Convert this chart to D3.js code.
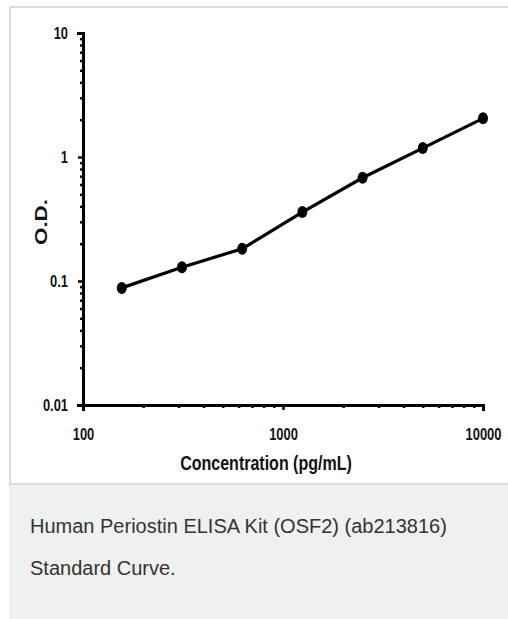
<!DOCTYPE html>
<html>
<head>
<meta charset="utf-8">
<script src="https://cdn.jsdelivr.net/npm/d3@7"></script>
<style>
  body { margin: 0; background: #fff; }
  svg { display: block; }
</style>
</head>
<body>
<svg id="chart" width="508" height="619"></svg>
<script>
// standard curve readings
const concentration = [156.25, 312.5, 625, 1250, 2500, 5000, 10000];
const od = [0.088, 0.129, 0.182, 0.36, 0.68, 1.18, 2.05];
const xTickLabels = [100, 1000, 10000];
const yTickLabels = [0.01, 0.1, 1, 10];
const captionLines = ['Human Periostin ELISA Kit (OSF2) (ab213816)', 'Standard Curve.'];

const svg = d3.select('#chart');

// frame + caption panel
svg.append('rect')
  .attr('x', 10).attr('y', 7).attr('width', 510).attr('height', 477)
  .attr('fill', '#fff').attr('stroke', '#dcdcdc').attr('stroke-width', 2);
svg.append('rect')
  .attr('x', 9).attr('y', 485).attr('width', 510).attr('height', 134)
  .attr('fill', '#eff0f0');

svg.selectAll('text.caption')
  .data(captionLines)
  .enter()
  .append('text')
  .attr('class', 'caption')
  .attr('x', 30)
  .attr('y', (d, i) => 533 + i * 42)
  .attr('fill', '#333')
  .style('font-family', '"Liberation Sans", Arial, sans-serif')
  .style('font-size', '20px')
  .text(d => d);

const margin = { top: 33, left: 83 };
const graphWidth = 400;
const graphHeight = 372;

const graph = svg.append('g')
  .attr('transform', `translate(${margin.left}, ${margin.top})`);

const x = d3.scaleLog().domain([100, 10000]).range([0, graphWidth]);
const y = d3.scaleLog().domain([0.01, 10]).range([graphHeight, 0]);

const font = '"Liberation Sans", Arial, sans-serif';
const isMajor = (d, list) => list.some(v => Math.abs(v - d) / v < 1e-6);
const squeeze = 0.76; // the original uses a narrow bold face

function condense(sel, factor) {
  sel.each(function () {
    const len = this.getComputedTextLength();
    if (len > 0) {
      d3.select(this)
        .attr('textLength', len * factor)
        .attr('lengthAdjust', 'spacingAndGlyphs');
    }
  });
}

const xAxis = d3.axisBottom(x)
  .tickValues(x.ticks())
  .tickFormat(d => isMajor(d, xTickLabels) ? d : '')
  .tickPadding(17);
const yAxis = d3.axisLeft(y)
  .tickValues(y.ticks())
  .tickFormat(d => isMajor(d, yTickLabels) ? d : '')
  .tickPadding(9);

const xAxisGroup = graph.append('g').attr('transform', `translate(0, ${graphHeight})`).call(xAxis);
const yAxisGroup = graph.append('g').call(yAxis);

[xAxisGroup, yAxisGroup].forEach(g => {
  g.select('.domain').attr('stroke', '#000').attr('stroke-width', 3);
  g.selectAll('.tick text')
    .style('font-family', font)
    .style('font-weight', 'bold')
    .style('font-size', '17px')
    .attr('fill', '#111')
    .attr('transform', `scale(${squeeze}, 1)`);
});
// keep the right edge of y labels where it was before the squeeze
yAxisGroup.selectAll('.tick text').attr('x', -15 / squeeze);

xAxisGroup.selectAll('.tick line')
  .attr('stroke', '#000').attr('stroke-width', 2.5)
  .attr('y2', d => isMajor(d, xTickLabels) ? 5 : 3);
yAxisGroup.selectAll('.tick line')
  .attr('stroke', '#000').attr('stroke-width', 2.5)
  .attr('x2', d => isMajor(d, yTickLabels) ? -5 : -3);

// axis titles
graph.append('text')
  .attr('x', 183)
  .attr('y', 437)
  .attr('text-anchor', 'middle')
  .style('font-family', font)
  .style('font-weight', 'bold')
  .style('font-size', '20px')
  .attr('fill', '#111')
  .text('Concentration (pg/mL)')
  .call(condense, 0.8);

graph.append('text')
  .attr('transform', `translate(-36, 189) rotate(-90)`)
  .attr('text-anchor', 'middle')
  .attr('textLength', 46)
  .attr('lengthAdjust', 'spacingAndGlyphs')
  .style('font-family', font)
  .style('font-weight', 'bold')
  .style('font-size', '17px')
  .attr('fill', '#111')
  .text('O.D.');

// curve
const points = concentration.map((c, i) => ({ c, v: od[i] }));
const line = d3.line().x(d => x(d.c)).y(d => y(d.v));

graph.append('path')
  .datum(points)
  .attr('d', line)
  .attr('fill', 'none')
  .attr('stroke', '#000')
  .attr('stroke-width', 3.2);

graph.selectAll('ellipse')
  .data(points)
  .enter()
  .append('ellipse')
  .attr('cx', d => x(d.c))
  .attr('cy', d => y(d.v))
  .attr('rx', 5)
  .attr('ry', 6)
  .attr('fill', '#000');
</script>
</body>
</html>
